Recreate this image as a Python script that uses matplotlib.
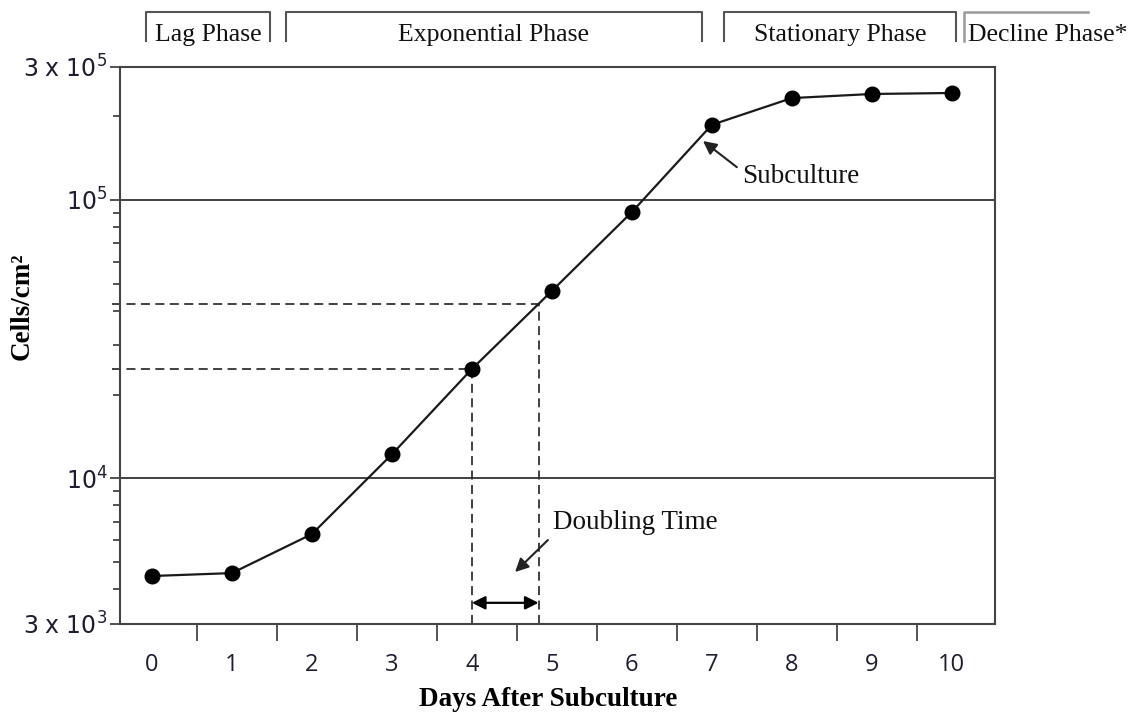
import numpy as np
import matplotlib.pyplot as plt
import matplotlib.transforms as mtransforms
from matplotlib.lines import Line2D
from matplotlib.ticker import FixedLocator, LogLocator, NullFormatter

plt.rcParams['mathtext.fontset'] = 'custom'
plt.rcParams['mathtext.rm'] = 'Open Sans'
plt.rcParams['mathtext.it'] = 'Open Sans:italic'

# growth curve readings
days = np.arange(11)
cells = [4460, 4570, 6310, 12200, 24700, 47100, 90400, 186000, 232000, 240000, 242000]

y_ticks = [3e3, 1e4, 1e5, 3e5]
y_tick_labels = [r'$\mathregular{3\ x\ 10^3}$', r'$\mathregular{10^4}$',
                 r'$\mathregular{10^5}$', r'$\mathregular{3\ x\ 10^5}$']
grid_levels = [1e4, 1e5]

phase_names = ['Lag Phase', 'Exponential Phase', 'Stationary Phase', 'Decline Phase*']
phase_start = [-0.075, 1.675, 7.15, 10.15]
phase_end = [1.475, 6.875, 10.05, 11.7]

doubling_day = 4
doubling_levels = [24700, 42300]

serif = 'Liberation Serif'
tick_col = '#1e1e30'
edge = '#444444'

fig = plt.figure(figsize=(11.31, 7.15), dpi=100)
ax = fig.add_axes([0.1061, 0.1273, 0.7736, 0.779])
ax.set_yscale('log')
ax.set_ylim(3e3, 3e5)
ax.set_xlim(-0.4, 10.54)

for g in grid_levels:
    ax.axhline(g, color='#333333', lw=1.3, zorder=1)

ax.plot(days, cells, color='#1a1a1a', lw=1.6, marker='o', ms=10.5,
        mfc='black', mec='black', zorder=4)

# doubling time construction
lo, hi = doubling_levels
i = doubling_day
frac = np.log(hi / cells[i]) / np.log(cells[i + 1] / cells[i])
x_double = i + frac
x_left = ax.get_xlim()[0] - 0.1
y_bot = ax.get_ylim()[0]
dash = dict(color='#333333', lw=1.3, ls=(0, (5, 3)), zorder=2, clip_on=False)
ax.plot([x_left, days[i]], [lo, lo], **dash)
ax.plot([x_left, x_double], [hi, hi], **dash)
ax.plot([days[i], days[i]], [y_bot, lo], **dash)
ax.plot([x_double, x_double], [y_bot, hi], **dash)

bt = mtransforms.blended_transform_factory(ax.transData, ax.transAxes)
ax.annotate('', xy=(x_double, 0.038), xytext=(days[i], 0.038),
            xycoords=bt, textcoords=bt,
            arrowprops=dict(arrowstyle='<|-|>', color='black', lw=1.6,
                            mutation_scale=20, shrinkA=0, shrinkB=0))

ax.annotate('Doubling Time', xy=(4.54, 4610), xytext=(5.01, 6920),
            ha='left', va='center', fontsize=19.5, family=serif, color='#111111',
            arrowprops=dict(arrowstyle='-|>', color='#222222', lw=1.5,
                            mutation_scale=20, relpos=(0, 0), shrinkA=2, shrinkB=0))
ax.annotate('Subculture', xy=(6.89, 162700), xytext=(7.375, 121800),
            ha='left', va='center', fontsize=19.5, family=serif, color='#111111',
            arrowprops=dict(arrowstyle='-|>', color='#222222', lw=1.5,
                            mutation_scale=20, relpos=(0, 0.7), shrinkA=2, shrinkB=0))

# axes styling
for s in ax.spines.values():
    s.set_color(edge)
    s.set_linewidth(1.5)

ax.set_xticks(days)
ax.set_xticklabels([str(d) for d in days], family='Open Sans')
ax.xaxis.set_minor_locator(FixedLocator(days[:-1] + 0.56))
ax.tick_params(axis='x', which='major', length=0, pad=21, labelsize=17, labelcolor=tick_col)
ax.tick_params(axis='x', which='minor', length=12.5, width=1.3, color=edge)

ax.yaxis.set_major_locator(FixedLocator(y_ticks))
ax.set_yticklabels(y_tick_labels)
ax.yaxis.set_minor_locator(LogLocator(base=10, subs=np.arange(2, 10)))
ax.yaxis.set_minor_formatter(NullFormatter())
ax.tick_params(axis='y', which='major', length=7.5, width=1.3, color=edge,
               pad=1.5, labelsize=17, labelcolor=tick_col)
ax.tick_params(axis='y', which='minor', length=5, width=1.3, color=edge)

fig.text(0.0195, 0.571, 'Cells/cm²', rotation=90, ha='center', va='center',
         fontsize=19.5, fontweight='bold', family=serif)
fig.text(0.4845, 0.021, 'Days After Subculture', ha='center', va='center',
         fontsize=19.5, fontweight='bold', family=serif)

# phase brackets across the top
pt = mtransforms.blended_transform_factory(ax.transData, fig.transFigure)
top_y, low_y = 0.9832, 0.942
text_y = 0.951
for name, s, e in zip(phase_names, phase_start, phase_end):
    if name.startswith('Decline'):
        fig.add_artist(Line2D([s, s, e], [low_y, top_y, top_y], transform=pt,
                              color='#9a9a9a', lw=1.8))
        fig.text(s + 0.05, text_y, name, transform=pt, ha='left', va='center',
                 fontsize=18.5, family=serif, color='#111111')
    else:
        fig.add_artist(Line2D([s, s, e, e], [low_y, top_y, top_y, low_y], transform=pt,
                              color='#555555', lw=1.5))
        fig.text((s + e) / 2, text_y, name, transform=pt, ha='center', va='center',
                 fontsize=18.5, family=serif, color='#111111')

fig.savefig('out.png', dpi=100)
